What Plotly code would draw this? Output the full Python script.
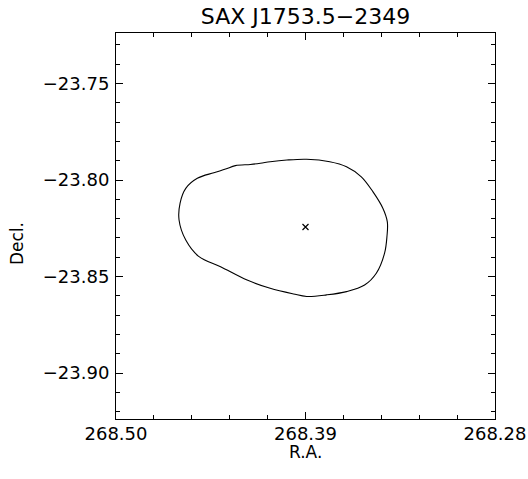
import plotly.graph_objects as go

# Contour (R.A., Decl.) in degrees
contour_ra = [268.4634, 268.4628, 268.4595, 268.4528, 268.4432, 268.4364, 268.4307,
              268.4220, 268.4162, 268.4105, 268.4008, 268.3893, 268.3759, 268.3662,
              268.3576, 268.3509, 268.3451, 268.3425, 268.3427, 268.3441, 268.3489,
              268.3557, 268.3662, 268.3778, 268.3893, 268.3970, 268.4105, 268.4239,
              268.4393, 268.4518, 268.4595, 268.4634]
contour_dec = [-23.8207, -23.8119, -23.8043, -23.7991, -23.7962, -23.7943, -23.7925,
               -23.7919, -23.7913, -23.7905, -23.7896, -23.7892, -23.7905, -23.7931,
               -23.7983, -23.8060, -23.8146, -23.8217, -23.8290, -23.8379, -23.8483,
               -23.8544, -23.8578, -23.8595, -23.8603, -23.8590, -23.8561, -23.8518,
               -23.8449, -23.8397, -23.8311, -23.8207]

source_ra = [268.39]
source_dec = [-23.8243]

title = "SAX J1753.5\u22122349"
x_tickvals = [268.50, 268.39, 268.28]
x_ticktext = ["268.50", "268.39", "268.28"]
x_minor = [268.50 - 0.022 * i for i in range(11)]
y_tickvals = [-23.75, -23.80, -23.85, -23.90]
y_minor = [round(-23.92 + 0.01 * i, 2) for i in range(20)]

FONT = "DejaVu Sans"

W, H = 528, 479
L, R, T, B = 116, 495, 33, 419

fig = go.Figure()
fig.add_trace(go.Scatter(x=contour_ra, y=contour_dec, mode="lines",
                         line=dict(color="black", width=1.1, shape="spline", smoothing=1.0),
                         showlegend=False, hoverinfo="skip"))
fig.add_trace(go.Scatter(x=source_ra, y=source_dec, mode="markers",
                         marker=dict(symbol="x-thin", size=6, line=dict(color="black", width=1.2)),
                         showlegend=False))

axis_common = dict(showgrid=False, zeroline=False, showline=True, linecolor="black",
                   linewidth=1.1, mirror="allticks", ticks="inside", ticklen=7,
                   tickcolor="black", tickwidth=1, automargin=False,
                   tickfont=dict(family=FONT, size=18, color="black"))

fig.update_layout(
    width=W, height=H,
    margin=dict(l=L, r=W - R, t=T, b=H - B),
    paper_bgcolor="white", plot_bgcolor="white",
    title=dict(text=title, x=(L + R) / 2 / W, xanchor="center", y=1 - 16 / H,
               yanchor="middle", yref="container", automargin=False,
               font=dict(family=FONT, size=22, color="black")),
    xaxis=dict(range=[268.50, 268.28], tickmode="array", tickvals=x_tickvals,
               ticktext=x_ticktext, ticklabelstandoff=-2,
               minor=dict(tickmode="array", tickvals=x_minor, ticks="inside",
                          ticklen=4, tickcolor="black", tickwidth=1),
               **axis_common),
    yaxis=dict(range=[-23.9238, -23.7238], tickmode="array", tickvals=y_tickvals,
               tickformat=".2f", ticklabelstandoff=2,
               minor=dict(tickmode="array", tickvals=y_minor, ticks="inside",
                          ticklen=4, tickcolor="black", tickwidth=1),
               **axis_common),
    annotations=[
        dict(text="R.A.", xref="paper", yref="paper", x=0.5, y=-(452 - 419) / 386,
             xanchor="center", yanchor="middle", showarrow=False,
             font=dict(family=FONT, size=17, color="black")),
        dict(text="Decl.", xref="paper", yref="paper", x=-(116 - 17) / 379,
             y=(419 - 243) / 386, xanchor="center", yanchor="middle", showarrow=False,
             textangle=-90, font=dict(family=FONT, size=17, color="black")),
    ],
)

# remove the page's default body margin so the figure sits at the window's corner
fig.write_html("out.html", config={"displayModeBar": False},
               post_script="document.body.style.margin='0';document.body.style.overflow='hidden';")
